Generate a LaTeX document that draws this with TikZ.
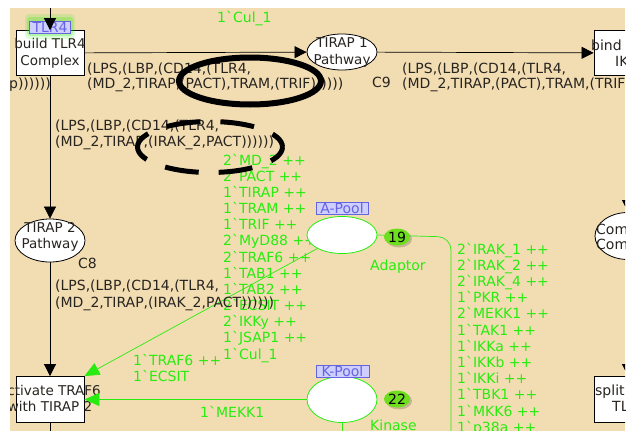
\documentclass[tikz,border=0pt]{standalone}
\usepackage{fontspec}
\setmainfont{DejaVu Sans}[Ligatures=TeXOff]
\usetikzlibrary{arrows.meta,shapes.geometric}
\definecolor{bg}{RGB}{242,221,178}
\definecolor{cpn}{RGB}{40,236,15}
\definecolor{tok}{RGB}{110,222,30}
\definecolor{lblfill}{RGB}{206,206,255}
\definecolor{lbldraw}{RGB}{100,100,225}
\definecolor{ink}{RGB}{40,36,32}
\newcommand\myLfont{\fontsize{14}{16}\selectfont}
\newcommand\myNfont{\fontsize{13.5}{16.5}\selectfont}
\newcommand\myLabA{(LPS,(LBP,(CD14,(TLR4,}
\newcommand\myLabB{(MD\_2,TIRAP,(PACT),TRAM,(TRIF))))))}
\newcommand\myLabC{(MD\_2,TIRAP,(IRAK\_2,PACT))))))}
\begin{document}
\begin{tikzpicture}[x=1pt,y=-1pt,
  trans/.style={draw=black, fill=white, line width=0.8pt, minimum width=68pt, minimum height=45pt, inner sep=0pt},
  place/.style={ellipse, draw=black, fill=white, line width=0.8pt, minimum width=70pt, minimum height=36pt, inner sep=0pt},
  pool/.style={ellipse, draw=cpn, fill=white, line width=0.8pt, minimum width=70pt, minimum height=37pt, inner sep=0pt},
  ntext/.style={font=\myNfont, align=center, inner sep=0pt, text=ink},
  lbl/.style={font=\myLfont, text=ink, inner sep=0pt, anchor=base west},
  gtxt/.style={font=\myLfont, text=cpn, inner sep=0pt, anchor=base west},
  arc/.style={draw=black, line width=0.7pt, -{Triangle[length=12pt,width=12pt]}},
  garc/.style={draw=cpn, line width=0.7pt, -{Triangle[length=15pt,width=13pt]}},
  gline/.style={draw=cpn, line width=0.7pt},
  tagbox/.style={draw=lbldraw, fill=lblfill, text=lbldraw, font=\myLfont, inner sep=0pt, minimum height=12pt},
  token/.style={ellipse, fill=tok, minimum width=26pt, minimum height=17pt, inner sep=0pt, font=\myLfont, text=black},
  handmark/.style={ellipse, draw=black, inner sep=0pt}
]
\useasboundingbox[fill=white] (0,0) rectangle (627,431);
\begin{scope}
\clip (10,8) rectangle (625,431);
\fill[bg] (10,8) rectangle (625,431);

\coordinate (tin) at (50,0);
\coordinate (actout) at (50,440);
\coordinate (comin) at (628,150);
\coordinate (splitin) at (628,300);
\coordinate (kout) at (342,440);
\coordinate (abend) at (451,237);
\coordinate (aout) at (451,440);

% green markings
\node[gtxt] (cul) at (217,22) {1`Cul\_1};
\foreach \t [count=\i] in {2`MD\_2 ++,2`PACT ++,1`TIRAP ++,1`TRAM ++,1`TRIF ++,2`MyD88 ++,2`TRAF6 ++,1`TAB1 ++,1`TAB2 ++,2`ECSIT ++,2`IKKy ++,1`JSAP1 ++,1`Cul\_1}
  \node[gtxt] (ga\i) at (223,{165+(\i-1)*16.17}) {\t};
\foreach \t [count=\i] in {2`IRAK\_1 ++,2`IRAK\_2 ++,2`IRAK\_4 ++,1`PKR ++,2`MEKK1 ++,1`TAK1 ++,1`IKKa ++,1`IKKb ++,1`IKKi ++,1`TBK1 ++,1`MKK6 ++,1`p38a ++}
  \node[gtxt] (gb\i) at (457,{254+(\i-1)*16.2}) {\t};
\node[gtxt] (e1) at (133,365) {1`TRAF6 ++};
\node[gtxt] (e2) at (133,381) {1`ECSIT};
\node[gtxt] (e3) at (200,417) {1`MEKK1};
\node[gtxt] (adap) at (370,270) {Adaptor};
\node[gtxt] (kin) at (370,430) {Kinase};

% nodes
\node[trans] (build) at (50,53) {};
\node[ntext] (buildt) at (50,53.5) {build TLR4\\Complex};
\node[place] (tirap1) at (342,52) {};
\node[ntext] (tirap1t) at (342,52.5) {TIRAP 1\\Pathway};
\node[trans] (bind) at (628,53) {};
\node[lbl] (bindt1) at (591,50) {bind};
\node[lbl] (bindt2) at (615,66) {IK};
\node[place, minimum height=43pt] (tirap2) at (50,240.5) {};
\node[ntext] (tirap2t) at (50,237) {TIRAP 2\\Pathway};
\node[trans, minimum height=46pt] (act) at (50,399.5) {};
\node[ntext] (actt) at (50,398.5) {activate TRAF6\\with TIRAP 2};
\node[place, minimum width=66pt, minimum height=47pt] (com) at (628,236) {};
\node[lbl] (comt1) at (596,234) {Com};
\node[lbl] (comt2) at (596,249) {Com};
\node[trans, minimum height=46pt] (split) at (628,399.5) {};
\node[lbl] (splitt1) at (595,395) {split};
\node[lbl] (splitt2) at (612,411) {TL};

% green arcs
\node[pool] (apool) at (342,235) {};
\node[pool, minimum height=46pt] (kpool) at (342,399.5) {};
\draw[gline, rounded corners=13pt] (apool.east) -- (abend) -- (aout);
\draw[garc] (apool) -- (act.north east);
\draw[garc] (kpool) -- (act);
\draw[gline] (kpool) -- (kout);

% tokens and tags
\fill[black, opacity=0.18] (399,239) ellipse [x radius=13pt, y radius=8.5pt];
\node[token] (t19) at (397,237) {19};
\fill[black, opacity=0.18] (399,401) ellipse [x radius=13pt, y radius=8.5pt];
\node[token] (t22) at (397,399) {22};
\node[tagbox, minimum width=52pt] (atag) at (342,208.5) {A-Pool};
\node[tagbox, minimum width=53pt] (ktag) at (342.5,371) {K-Pool};
\fill[cpn, opacity=0.15, rounded corners=4pt] (25,14) rectangle (75,39);
\fill[cpn, opacity=0.25, rounded corners=3pt] (27,17) rectangle (73,36);
\node[tagbox, minimum width=41pt] (ttag) at (50,27) {TLR4};

% black arcs
\draw[arc] (tin) -- (build.north);
\draw[arc] (build) -- (tirap1);
\draw[arc] (tirap1) -- (bind);
\draw[arc] (build) -- (tirap2);
\draw[arc] (tirap2) -- (act);
\draw[black, line width=0.7pt] (act.south) -- (actout);
\draw[arc] (comin) -- (com);
\draw[arc] (splitin) -- (split);

% arc inscriptions
\node[lbl] (l1a) at (87,73) {\myLabA};
\node[lbl] (l1b) at (87,88) {\myLabB};
\node[lbl] (l2a) at (402,73) {\myLabA};
\node[lbl] (l2b) at (402,88) {\myLabB};
\node[lbl] (c9) at (372,87) {C9};
\node[lbl, anchor=base east] (l0b) at (51,88) {p))))))};
\node[lbl] (l3a) at (55,130) {\myLabA};
\node[lbl] (l3b) at (55,146) {\myLabC};
\node[lbl] (c8) at (78,268) {C8};
\node[lbl] (l4a) at (55,290) {\myLabA};
\node[lbl] (l4b) at (55,307) {\myLabC};

% hand-drawn marks
\node[handmark, line width=6pt, minimum width=142pt, minimum height=47pt] (mark1) at (250,81) {};
\node[handmark, line width=5pt, minimum width=145pt, minimum height=51pt, dash pattern=on 34pt off 20pt, dash phase=17pt] (mark2) at (210,147) {};
\end{scope}
\end{tikzpicture}
\end{document}
